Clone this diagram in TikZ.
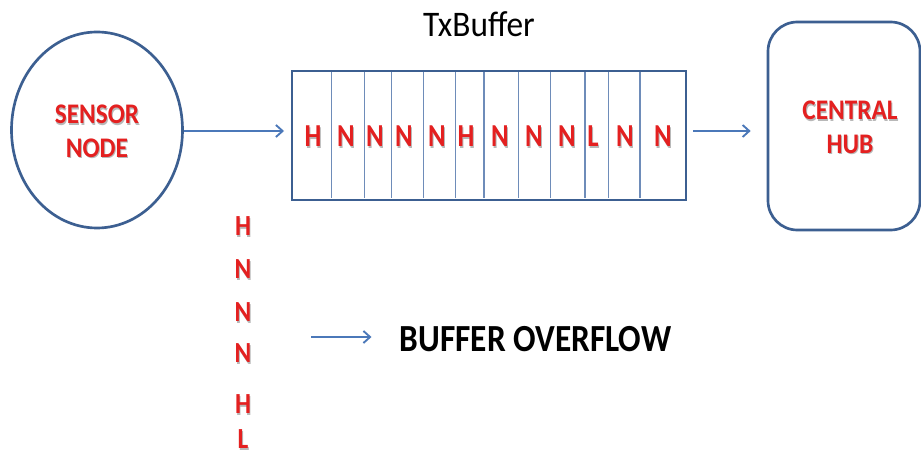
\documentclass[tikz,border=0pt]{standalone}
\usepackage{fontspec}
\setmainfont{Carlito}
\usetikzlibrary{shapes.geometric,arrows.meta}
\definecolor{outline}{RGB}{60,95,145}
\definecolor{divider}{RGB}{110,140,185}
\definecolor{flow}{RGB}{75,120,185}
\definecolor{label}{RGB}{228,32,32}
% red bold lettering with a faint grey drop shadow
\newcommand\shadowtxt[1]{\makebox[0pt][l]{\hspace{0.7pt}\raisebox{-0.9pt}{\color{black!28}#1}}{\color{label}#1}}
% vertically stretched lettering
\newcommand\tall[2]{\scalebox{1}[#1]{#2}}
\begin{document}
\begin{tikzpicture}[x=0.75pt,y=-0.75pt,
  flowarrow/.style={draw=flow,line width=1.4pt,-{Straight Barb[length=5pt,width=9pt,line width=1.4pt]}},
  cellletter/.style={font=\fontsize{20}{20}\selectfont\bfseries,inner sep=0pt},
  stackletter/.style={font=\fontsize{19}{19}\selectfont\bfseries,inner sep=0pt},
  bigname/.style={font=\fontsize{19}{23}\selectfont\bfseries,align=center,inner sep=0pt}]
\useasboundingbox[fill=white] (0,0) rectangle (921,452);

% sensor node
\node[ellipse,draw=outline,line width=2pt,minimum width=171*0.75pt,minimum height=196*0.75pt,inner sep=0pt] (sensor) at (97,130) {};
\node[bigname] (sensortxt) at (97,132) {\tall{1.12}{\shadowtxt{SENSOR}}\\[2pt]\tall{1.12}{\shadowtxt{NODE}}};

% transmit buffer
\node[draw=outline,line width=2pt,minimum width=394*0.75pt,minimum height=129*0.75pt,inner sep=0pt] (buf) at (489,135.5) {};
\node[font=\fontsize{25}{25}\selectfont,inner sep=0pt] (title) at (479,24) {\tall{1.08}{TxBuffer}};
\foreach \x in {331.7,364.3,391.7,423.3,455.7,484,518.3,550.7,585,608.3,640}
  \draw[divider,line width=0.9pt] (\x,72.5) -- (\x,198.5);
\foreach \x/\c [count=\i] in {313/H,346/N,375/N,404/N,437/N,466/H,500/N,534/N,567/N,593/L,625/N,663/N}
  \node[cellletter] (cell\i) at (\x,137) {\tall{1.2}{\shadowtxt{\c}}};

% central hub
\node[draw=outline,line width=2pt,rounded corners=22pt,minimum width=152*0.75pt,minimum height=208*0.75pt,inner sep=0pt] (hub) at (844,126) {};
\node[bigname] (hubtxt) at (850,128) {\tall{1.12}{\shadowtxt{CENTRAL}}\\[2pt]\tall{1.12}{\shadowtxt{HUB}}};

% data flow
\draw[flowarrow,shorten >=5pt] (sensor.east |- 0,131) -- (buf.west |- 0,131);
\draw[flowarrow,shorten <=4.5pt,shorten >=12pt] (buf.east |- 0,131) -- (hub.west |- 0,131);

% pending packets
\foreach \y/\c [count=\i] in {227/H,270/N,313/N,354/N,405/H,440/L}
  \node[stackletter] (pend\i) at (243,\y) {\tall{1.15}{\shadowtxt{\c}}};

% overflow
\coordinate (ovstart) at (311,337);
\node[font=\fontsize{25}{25}\selectfont\bfseries,inner sep=0pt] (overflow) at (535.5,339) {\tall{1.15}{BUFFER OVERFLOW}};
\draw[flowarrow,shorten >=21pt] (ovstart) -- (overflow.west |- ovstart);
\end{tikzpicture}
\end{document}
